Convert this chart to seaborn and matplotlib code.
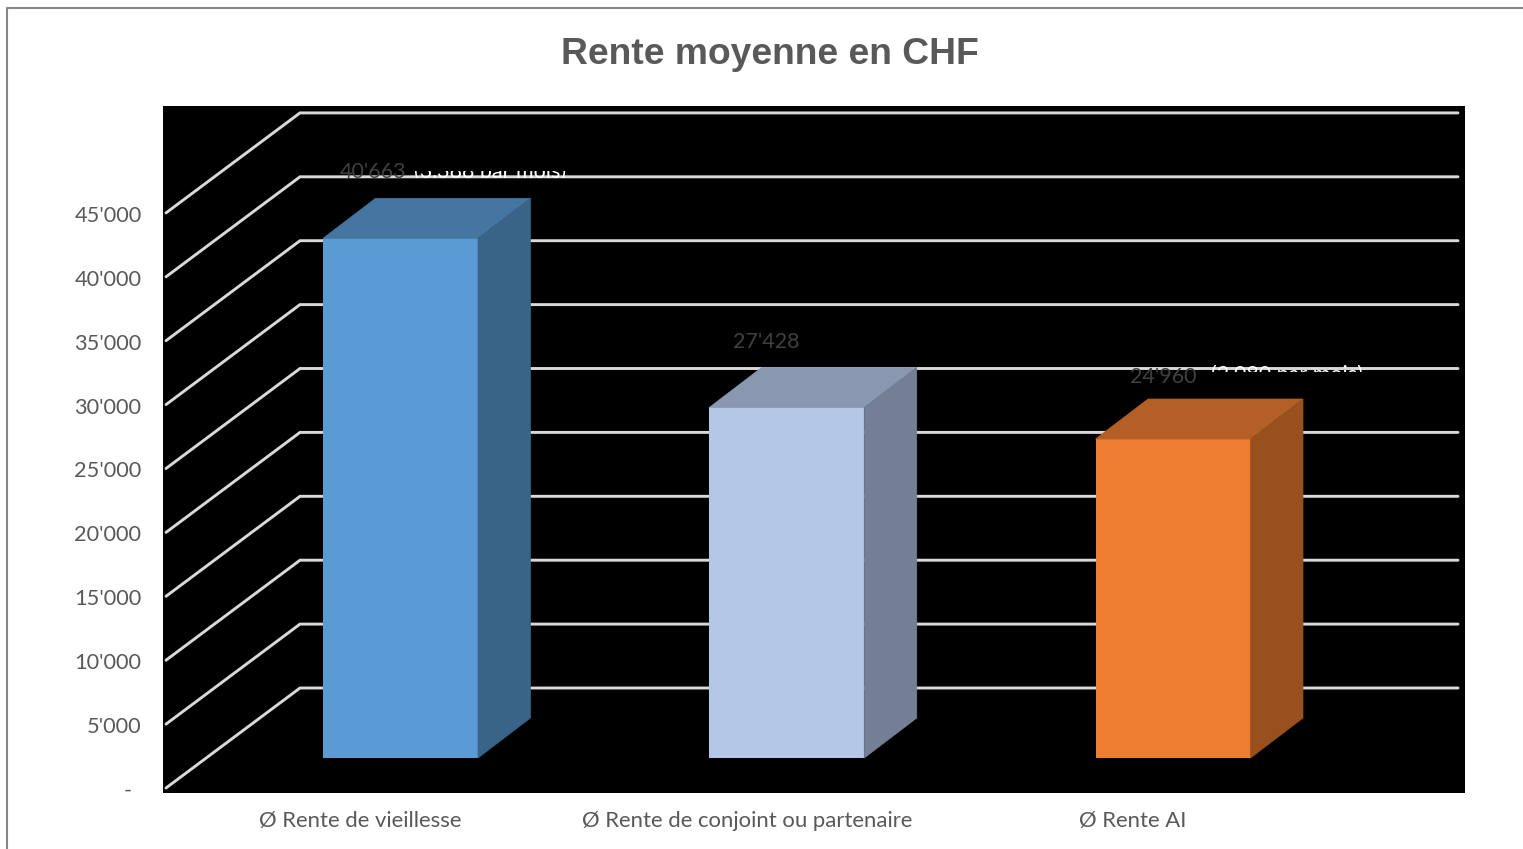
import matplotlib
matplotlib.use('Agg')
import matplotlib.pyplot as plt
import seaborn as sns
import pandas as pd
from matplotlib.patches import Polygon, Rectangle
from matplotlib.colors import to_rgb
from matplotlib.transforms import Affine2D

# Donnees
categories = ['Ø Rente de vieillesse', 'Ø Rente de conjoint ou partenaire', 'Ø Rente AI']
valeurs = [40663, 27428, 24960]
etiquettes = ["40'663", "27'428", "24'960"]
notes = ['(3,388 par mois)', '', '(2,080 par mois)']
couleurs = ['#5B9BD5', '#B4C7E7', '#ED7D31']
niveaux = [0, 5000, 10000, 15000, 20000, 25000, 30000, 35000, 40000, 45000]
niveaux_txt = ['-', "5'000", "10'000", "15'000", "20'000", "25'000", "30'000", "35'000", "40'000", "45'000"]

W, H = 1523, 849
px_y = 63.9 / 5000   # pixels par CHF
px_x = 386.25        # pixels par categorie


def assombrir(c, f):
    return tuple(v * f for v in to_rgb(c))


sns.set_theme(style='white')
plt.rcParams['font.family'] = ['Lato', 'DejaVu Sans']

fig = plt.figure(figsize=(W / 100, H / 100), dpi=100, facecolor='white')
ax = fig.add_axes([163 / W, 1 - 793 / H, (1465 - 163) / W, (793 - 106) / H])
ax.set_facecolor('black')

df = pd.DataFrame({'cat': categories, 'val': valeurs})
sns.barplot(data=df, x='cat', y='val', hue='cat', palette=couleurs, legend=False,
            width=155 / px_x, saturation=1, ax=ax, zorder=5, linewidth=0)

ax.set_xlim(-(400.5 - 163) / px_x, 2 + (1465 - 1173) / px_x)
ax.set_ylim(-(793 - 758) / px_y, (758 - 106) / px_y)
for s in ax.spines.values():
    s.set_visible(False)

# Profondeur de la grille (mur du fond / bord avant)
fond = 70 / px_y
avant = -30 / px_y
x_fond = (300 - 400.5) / px_x
x_avant = (166 - 400.5) / px_x
x_fin = 2 + (1458 - 1173) / px_x
for n in niveaux:
    ax.plot([x_avant, x_fond, x_fin], [n + avant, n + fond, n + fond],
            color='#D9D9D9', lw=2.1, solid_joinstyle='miter', zorder=2)

# Faces 3D des barres
dx = 52.5 / px_x
dy = 40 / px_y
barres = list(ax.patches)[:3]
for bar, c in zip(barres, couleurs):
    x0, x1 = bar.get_x(), bar.get_x() + bar.get_width()
    top = bar.get_height()
    dessus = assombrir(c, 0.76)
    cote = assombrir(c, 0.64)
    ax.add_patch(Polygon([(x0, top), (x1, top), (x1 + dx, top + dy), (x0 + dx, top + dy)],
                         facecolor=dessus, edgecolor=dessus, lw=0.5, zorder=6))
    ax.add_patch(Polygon([(x1, 0), (x1, top), (x1 + dx, top + dy), (x1 + dx, dy)],
                         facecolor=cote, edgecolor=cote, lw=0.5, zorder=6))

# Etiquettes de valeurs
decal = [(-28, 66), (-20, 65), (-10, 62)]
for bar, txt, d in zip(barres, etiquettes, decal):
    cx = bar.get_x() + bar.get_width() / 2
    ax.annotate(txt, (cx, bar.get_height()), xytext=d, textcoords='offset pixels',
                ha='center', va='center', fontsize=15.5, color='#404040', zorder=8)

# Texte coupe a droite des etiquettes (seule une bande reste visible)
decal_note = [(14, 67), (0, 0), (38, 64)]
bande = [(60, 67), (0, 0), (67, 74)]
for bar, note, d, b in zip(barres, notes, decal_note, bande):
    if not note:
        continue
    cx = bar.get_x() + bar.get_width() / 2
    t = ax.annotate(note, (cx, bar.get_height()), xytext=d, textcoords='offset pixels',
                    ha='left', va='center', fontsize=15.5, color='white', zorder=8,
                    annotation_clip=False)
    clip = Rectangle((cx, bar.get_height() + b[0] / px_y), 2, (b[1] - b[0]) / px_y,
                     transform=ax.transData)
    t.set_clip_path(clip)

# Axes
ax.set_yticks([n + avant - 1 / px_y for n in niveaux])
ax.set_yticklabels(niveaux_txt, fontsize=15.7, color='#595959')
ax.set_xticks([i - 40 / px_x for i in range(3)])
ax.set_xticklabels(categories, fontsize=15.9, color='#595959')
ax.tick_params(axis='both', length=0)
ax.tick_params(axis='y', pad=15.5)
ax.tick_params(axis='x', pad=13)
ax.set_xlabel('')
ax.set_ylabel('')
ax.grid(False)

# Le tiret du zero est en retrait, comme le format comptable
tiret = ax.get_yticklabels()[0]
tiret.set_transform(tiret.get_transform() + Affine2D().translate(-10, 0))

fig.text(770 / W, 1 - 55 / H, 'Rente moyenne en CHF', ha='center', va='center',
         fontsize=26.8, fontweight='bold', color='#595959', family='Liberation Sans')

# Cadre du graphique
fig.add_artist(plt.Line2D([7 / W, 7 / W, 1], [0, 1 - 8 / H, 1 - 8 / H],
                          color='#868686', lw=1.5))

fig.savefig('out.png', dpi=100, facecolor='white')
